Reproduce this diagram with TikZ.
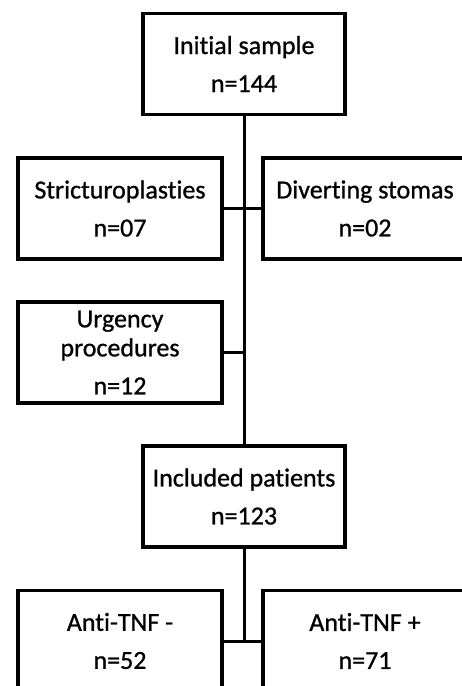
\documentclass[tikz,border=0pt]{standalone}
\usepackage{fontspec}
\setmainfont{Carlito}[RawFeature={-liga},BoldFont={Carlito},BoldFeatures={FakeBold=0.9}]
\begin{document}
\begin{tikzpicture}[x=1pt,y=1pt,
  box/.style={draw=black,line width=3.2pt,rectangle,minimum width=202pt,minimum height=101pt,
    inner sep=0pt,align=center,font=\fontsize{26}{38}\bfseries\selectfont},
  conn/.style={draw=black,line width=3pt}]
\useasboundingbox (0,0) rectangle (462,-686);
\clip (0,0) rectangle (462,-686);
\node[box] (init) at (244,-64) {Initial sample\\n=144};
\node[box,minimum width=204pt] (strict) at (120,-208.5) {Stricturoplasties\\n=07};
\node[box,minimum width=204pt] (divert) at (365,-208.5) {Diverting stomas\\n=02};
\node[box,minimum width=204pt] (urg) at (120,-352.5) {Urgency\\[-9pt]procedures\\n=12};
\node[box] (incl) at (244,-496.5) {Included patients\\n=123};
\node[box,minimum width=204pt] (neg) at (120,-641) {Anti-TNF -\\n=52};
\node[box,minimum width=204pt] (pos) at (365,-641) {Anti-TNF +\\n=71};
\coordinate (j) at (incl.south |- neg.east);
\draw[conn] (init.south) -- (incl.north);
\draw[conn] (strict.east) -- (divert.west);
\draw[conn] (urg.east) -- (urg.east -| init.south);
\draw[conn] (incl.south) -- (j);
\draw[conn] (neg.east) -- (pos.west);
\end{tikzpicture}
\end{document}
